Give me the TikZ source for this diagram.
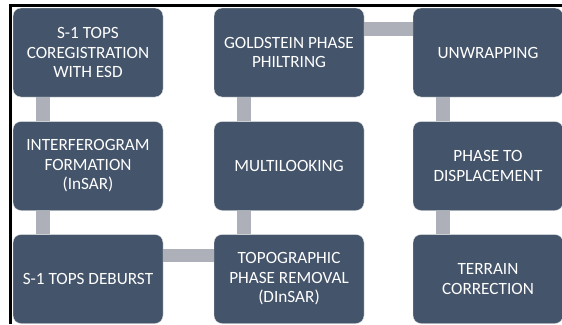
\documentclass[tikz,border=0pt]{standalone}
\usepackage{fontspec}
\setmainfont{Carlito}
\usepackage{tikz}
\usetikzlibrary{calc}
\definecolor{boxblue}{HTML}{44546A}
\definecolor{linkgray}{HTML}{ADB0B8}
\tikzset{
  stage/.style={rectangle, rounded corners=8pt, fill=boxblue, draw=white!80!gray, thin,
    minimum width=150pt, minimum height=89pt, inner sep=2pt, text=white, align=center,
    font=\fontsize{17.2}{19.5}\selectfont},
  link/.style={draw=linkgray, line width=13.5pt}
}

\begin{document}
\begin{tikzpicture}[x=1pt,y=-1pt]
    \useasboundingbox (0,0) rectangle (562,324);
    \draw[line width=3pt] (10,324) -- (10,5.5) -- (562,5.5);

    \node[stage] (coreg)  at (88,52.5) {S-1 TOPS\\COREGISTRATION\\WITH ESD};
    \node[stage] (interf) at (88,166)  {INTERFEROGRAM\\FORMATION\\(InSAR)};
    \node[stage] (deburst) at (88,279) {S-1 TOPS DEBURST};
    \node[stage] (topo)   at (289,279) {TOPOGRAPHIC\\PHASE REMOVAL\\(DInSAR)};
    \node[stage] (multi)  at (289,166) {MULTILOOKING};
    \node[stage] (gold)   at (289,52.5) {GOLDSTEIN PHASE\\PHILTRING};
    \node[stage] (unwrap) at (488,52.5) {UNWRAPPING};
    \node[stage] (disp)   at (488,166) {PHASE TO\\DISPLACEMENT};
    \node[stage] (terrain) at (488,279) {TERRAIN\\CORRECTION};

    \draw[link] ([xshift=30pt]coreg.south west) -- ([xshift=30pt]interf.north west);
    \draw[link] ([xshift=30pt]interf.south west) -- ([xshift=30pt]deburst.north west);
    \draw[link] ([yshift=-21pt]deburst.north east) -- ([yshift=-21pt]topo.north west);
    \draw[link] ([xshift=30pt]topo.north west) -- ([xshift=30pt]multi.south west);
    \draw[link] ([xshift=30pt]multi.north west) -- ([xshift=30pt]gold.south west);
    \draw[link] ([yshift=-21pt]gold.north east) -- ([yshift=-21pt]unwrap.north west);
    \draw[link] ([xshift=30pt]unwrap.south west) -- ([xshift=30pt]disp.north west);
    \draw[link] ([xshift=30pt]disp.south west) -- ([xshift=30pt]terrain.north west);
  \end{tikzpicture}
\end{document}
